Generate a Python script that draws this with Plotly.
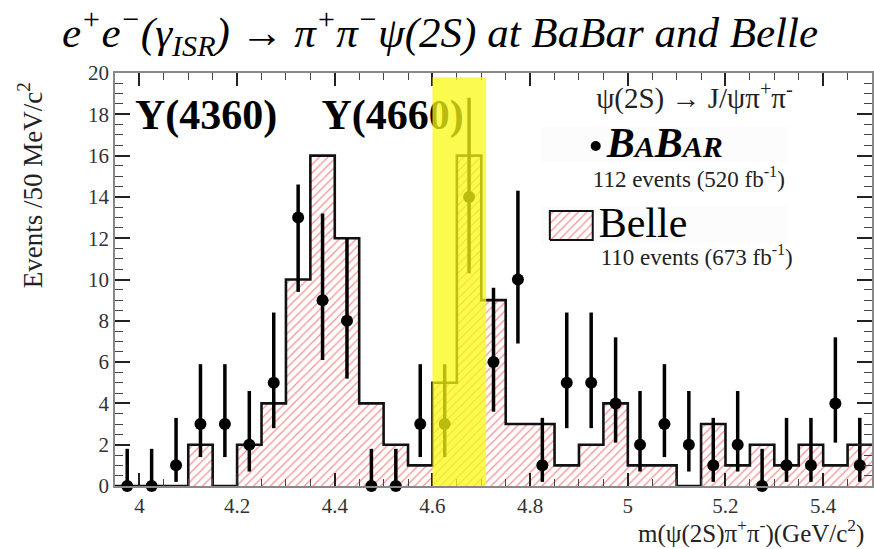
import numpy as np
import plotly.graph_objects as go

# ---------------- data ----------------
# Belle histogram: 50 MeV bins, left edges from 3.95 to 5.45
belle_left = [3.95, 4.00, 4.05, 4.10, 4.15, 4.20, 4.25, 4.30, 4.35, 4.40, 4.45,
              4.50, 4.55, 4.60, 4.65, 4.70, 4.75, 4.80, 4.85, 4.90, 4.95, 5.00,
              5.05, 5.10, 5.15, 5.20, 5.25, 5.30, 5.35, 5.40, 5.45]
belle_counts = [0, 0, 0, 2, 0, 2, 4, 10, 16, 12, 4, 2, 1, 5, 16, 9, 3, 3, 1, 2,
                4, 1, 1, 0, 3, 1, 2, 1, 2, 1, 2]
bin_width = 0.05

# BaBar points (bin centres), counts, and error-bar extents
babar_x = [3.975, 4.025, 4.075, 4.125, 4.175, 4.225, 4.275, 4.325, 4.375, 4.425,
           4.475, 4.525, 4.575, 4.625, 4.675, 4.725, 4.775, 4.825, 4.875, 4.925,
           4.975, 5.025, 5.075, 5.125, 5.175, 5.225, 5.275, 5.325, 5.375, 5.425, 5.475]
babar_n = [0, 0, 1, 3, 3, 2, 5, 13, 9, 8, 0, 0, 3, 3, 14, 6, 10, 1, 5, 5,
           4, 2, 3, 2, 1, 2, 0, 1, 1, 4, 1]
babar_hi = [1.8, 1.8, 3.3, 5.9, 5.9, 4.6, 8.4, 14.6, 13.2, 12.0, 1.8, 1.8, 5.9, 5.9,
            18.8, 9.6, 14.3, 3.3, 8.4, 8.4, 7.2, 4.6, 5.9, 4.6, 3.3, 4.6, 1.8, 3.3,
            3.3, 7.2, 3.3]
babar_lo = [0, 0, 0.2, 1.4, 1.4, 0.7, 2.8, 9.4, 6.1, 5.2, 0, 0, 1.4, 1.4, 10.3,
            3.6, 6.9, 0.2, 2.8, 2.8, 2.1, 0.7, 1.4, 0.7, 0.2, 0.7, 0, 0.2, 0.2,
            2.1, 0.2]

x_tickvals = [4.0, 4.2, 4.4, 4.6, 4.8, 5.0, 5.2, 5.4]
x_ticktext = ["4", "4.2", "4.4", "4.6", "4.8", "5", "5.2", "5.4"]
y_tickvals = [0, 2, 4, 6, 8, 10, 12, 14, 16, 18, 20]

highlight_band = [4.60, 4.71]

SERIF = "Liberation Serif"
HATCH_RED = "rgba(240,30,30,1)"

# ---------------- derived ----------------
belle_centres = [round(l + bin_width / 2, 4) for l in belle_left]
step_x = belle_left + [belle_left[-1] + bin_width]
step_y = belle_counts + [belle_counts[-1]]
err_plus = [h - n for h, n in zip(babar_hi, babar_n)]
err_minus = [n - l for n, l in zip(babar_n, babar_lo)]

fig = go.Figure()

# Belle hatched histogram
fig.add_trace(go.Bar(
    x=belle_centres, y=belle_counts, width=bin_width,
    marker=dict(color="white", line=dict(width=0),
                pattern=dict(shape="/", fgcolor=HATCH_RED, bgcolor="white",
                             size=6, solidity=0.2)),
    hoverinfo="skip", showlegend=False))

# Belle outline (step)
fig.add_trace(go.Scatter(
    x=step_x, y=step_y, mode="lines", line=dict(shape="hv", color="#111", width=2.6),
    hoverinfo="skip", showlegend=False, cliponaxis=False))

# BaBar points
fig.add_trace(go.Scatter(
    x=babar_x, y=babar_n, mode="markers",
    marker=dict(color="black", size=12),
    error_y=dict(type="data", symmetric=False, array=err_plus, arrayminus=err_minus,
                 color="black", thickness=3.5, width=0),
    hoverinfo="skip", showlegend=False, cliponaxis=False))

# ---------------- overlay (paper-like) axis for legend & labels ----------------
def P(px, py):
    return (px - 115) / 759.0, (486 - py) / 413.0

# legend swatch for Belle
sx0, sy0 = P(551, 240)
sx1, sy1 = P(594, 211)
fig.add_trace(go.Scatter(
    x=[sx0, sx1, sx1, sx0, sx0], y=[sy0, sy0, sy1, sy1, sy0], mode="lines",
    fill="toself", fillcolor="white",
    fillpattern=dict(shape="/", fgcolor=HATCH_RED, bgcolor="white", size=6, solidity=0.2),
    line=dict(color="#111", width=2), xaxis="x2", yaxis="y2",
    hoverinfo="skip", showlegend=False))

# BaBar legend dot
dx, dy = P(597, 146)
fig.add_trace(go.Scatter(x=[dx], y=[dy], mode="markers", marker=dict(color="black", size=10),
                         xaxis="x2", yaxis="y2", hoverinfo="skip", showlegend=False))

def add_text(px, py, text, size, pos="middle right", color="black"):
    x, y = P(px, py)
    fig.add_trace(go.Scatter(x=[x], y=[y], mode="text", text=[text], textposition=pos,
                             textfont=dict(family=SERIF, size=size, color=color),
                             xaxis="x2", yaxis="y2", hoverinfo="skip", showlegend=False,
                             cliponaxis=False))

add_text(135, 118, "<b>Y(4360)</b>", 42)
add_text(322, 118, "<b>Y(4660)</b>", 42)
add_text(696, 101, "ψ(2S) → J/ψπ<sup>+</sup>π<sup>-</sup>", 29, pos="middle center", color="#222")
add_text(608, 146, "<b><i>B<span style='font-size:30px'>A</span>B<span style='font-size:30px'>AR</span></i></b>", 42)
add_text(594, 181, "112 events (520 fb<sup>-1</sup>)", 23, color="#222")
add_text(600, 226, "Belle", 42)
add_text(602, 259, "110 events (673 fb<sup>-1</sup>)", 23, color="#222")

# ---------------- layout ----------------
axis_common = dict(showline=True, linecolor="#888", linewidth=1.5, mirror="ticks",
                   ticks="inside", tickcolor="#222", showgrid=False, zeroline=False,
                   tickfont=dict(family=SERIF, size=21, color="#333"))

fig.update_layout(
    width=874, height=549,
    margin=dict(l=115, r=0, t=73, b=63),
    paper_bgcolor="white", plot_bgcolor="white",
    bargap=0,
    xaxis=dict(range=[3.95, 5.5], tickvals=x_tickvals, ticktext=x_ticktext,
               ticklen=13, tickwidth=1.5,
               minor=dict(ticks="inside", dtick=0.05, tick0=3.95, ticklen=7,
                          tickcolor="#444", tickwidth=1),
               **axis_common),
    yaxis=dict(range=[0, 20], tickvals=y_tickvals, ticklen=15, tickwidth=1.5,
               minor=dict(ticks="inside", dtick=0.5, tick0=0, ticklen=8,
                          tickcolor="#444", tickwidth=1),
               **axis_common),
    xaxis2=dict(overlaying="x", range=[0, 1], visible=False, fixedrange=True),
    yaxis2=dict(overlaying="y", range=[0, 1], visible=False, fixedrange=True),
    showlegend=False,
)

# faint legend backgrounds
for (x0, y0, x1, y1) in [(542, 127, 790, 162), (542, 206, 790, 244)]:
    a0, b0 = P(x0, y1)
    a1, b1 = P(x1, y0)
    fig.add_shape(type="rect", xref="paper", yref="paper", x0=a0, x1=a1, y0=b0, y1=b1,
                  fillcolor="#fcfcfc", line=dict(width=0), layer="below")

# yellow highlight band (on top)
fig.add_shape(type="rect", xref="x", yref="y", x0=highlight_band[0], x1=highlight_band[1],
              y0=0, y1=19.8, fillcolor="rgba(250,250,20,0.75)", line=dict(width=0),
              layer="above")

# title and axis titles
fig.add_annotation(text="<i>e<sup>+</sup>e<sup>−</sup>(γ<sub>ISR</sub>) → π<sup>+</sup>π<sup>−</sup>ψ(2S) at BaBar and Belle</i>",
                   xref="paper", yref="paper", x=(441 - 115) / 759, y=(486 - 32) / 413,
                   showarrow=False, font=dict(family=SERIF, size=43, color="black"),
                   xanchor="center", yanchor="middle")
fig.add_annotation(text="Events /50 MeV/c<sup>2</sup>", textangle=-90,
                   xref="paper", yref="paper", x=(30 - 115) / 759, y=(486 - 185) / 413,
                   showarrow=False, font=dict(family=SERIF, size=27, color="#222"),
                   xanchor="center", yanchor="middle")
fig.add_annotation(text="m(ψ(2S)π<sup>+</sup>π<sup>-</sup>)(GeV/c<sup>2</sup>)",
                   xref="paper", yref="paper", x=(868 - 115) / 759, y=(486 - 531) / 413,
                   showarrow=False, font=dict(family=SERIF, size=25, color="#222"),
                   xanchor="right", yanchor="middle")

fig.write_html("out.html")
